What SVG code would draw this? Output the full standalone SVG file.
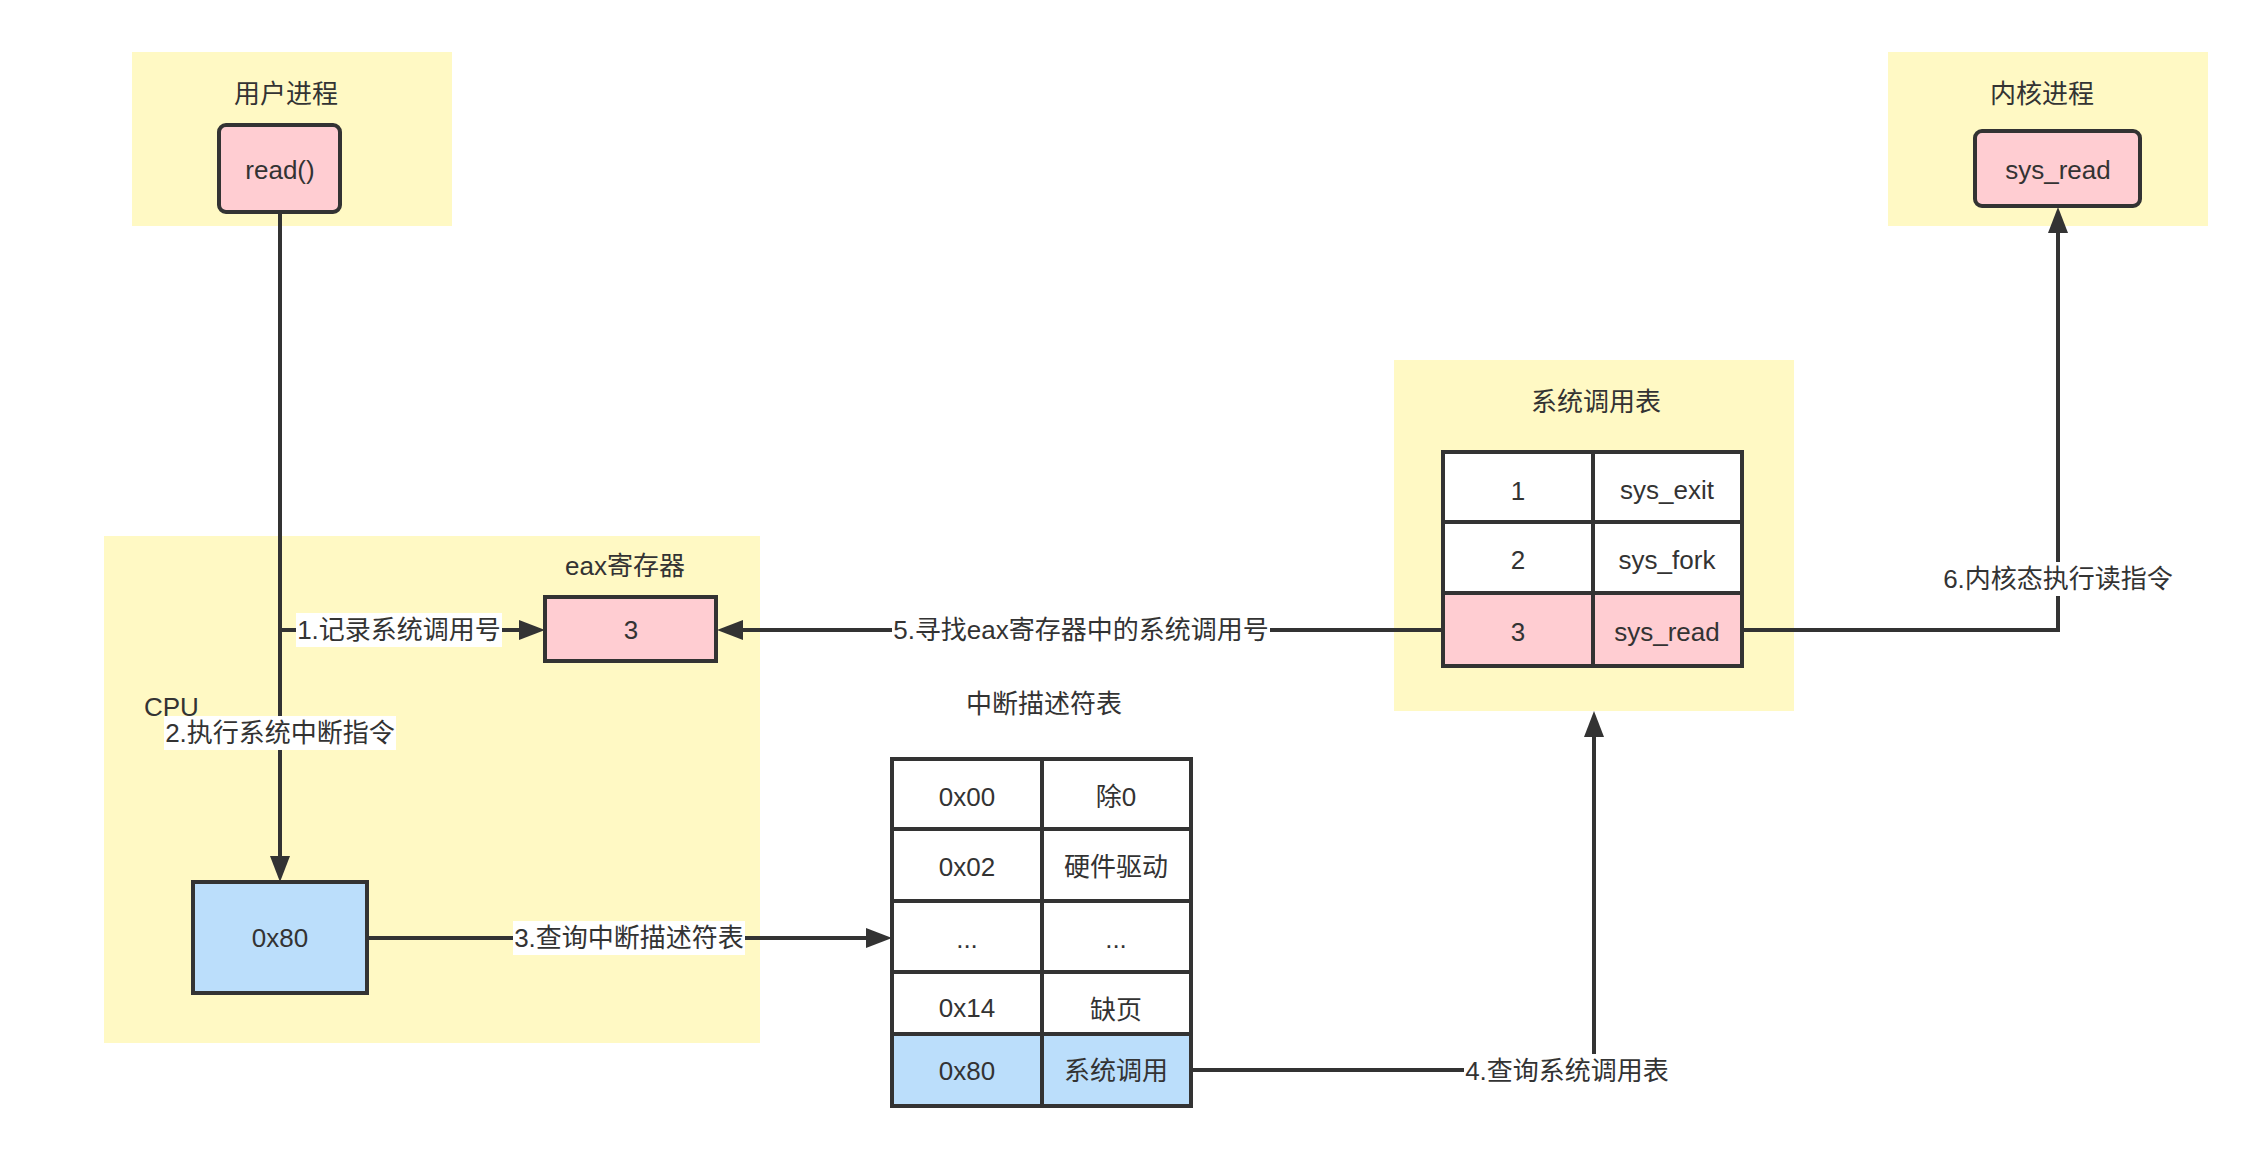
<svg xmlns="http://www.w3.org/2000/svg" width="2260" height="1154" viewBox="0 0 2260 1154">
<defs>
<style>
text{font-family:"Liberation Sans","Noto Sans CJK SC",sans-serif;font-size:26px;fill:#333;text-anchor:middle}
.grp{fill:#fff9c4;stroke:none}
.pink{fill:#ffcdd2;stroke:#333;stroke-width:4}
.blue{fill:#bbdefb;stroke:#333;stroke-width:4}
.white{fill:#fff;stroke:#333;stroke-width:4}
.edge{fill:none;stroke:#333;stroke-width:4}
.lbg{fill:#fff;stroke:none}
</style>
<marker id="arr" viewBox="0 0 26 20" refX="0" refY="10" markerWidth="26" markerHeight="20" markerUnits="userSpaceOnUse" orient="auto">
<path d="M0,0 L26,10 L0,20 z" fill="#333"/>
</marker>
</defs>
<rect width="2260" height="1154" fill="#fff"/>

<g id="user-process-area">
<rect class="grp" x="132" y="52" width="320" height="174"/>
<text x="286" y="103">用户进程</text>
</g>
<g id="kernel-process-area">
<rect class="grp" x="1888" y="52" width="320" height="174"/>
<text x="2042" y="103">内核进程</text>
</g>
<g id="cpu-area">
<rect class="grp" x="104" y="536" width="656" height="507"/>
<text x="144" y="716" style="text-anchor:start">CPU</text>
<text x="625" y="575">eax寄存器</text>
</g>
<g id="syscall-table-area">
<rect class="grp" x="1394" y="360" width="400" height="351"/>
<text x="1596" y="411">系统调用表</text>
</g>
<g id="idt-title">
<text x="1044" y="713">中断描述符表</text>
</g>

<g id="connectors">
<path class="edge" d="M280,212 L280,856" marker-end="url(#arr)"/>
<path class="edge" d="M280,630 L519,630" marker-end="url(#arr)"/>
<path class="edge" d="M367,938 L866,938" marker-end="url(#arr)"/>
<path class="edge" d="M1191,1070 L1594,1070 L1594,737" marker-end="url(#arr)"/>
<path class="edge" d="M1443,630 L743,630" marker-end="url(#arr)"/>
<path class="edge" d="M1742,630 L2058,630 L2058,233" marker-end="url(#arr)"/>
<rect class="lbg" x="296" y="613" width="206" height="34"/>
<text x="399" y="639">1.记录系统调用号</text>
<rect class="lbg" x="164" y="716" width="232" height="34"/>
<text x="280" y="742">2.执行系统中断指令</text>
<rect class="lbg" x="513" y="921" width="232" height="34"/>
<text x="629" y="947">3.查询中断描述符表</text>
<rect class="lbg" x="1464" y="1054" width="206" height="34"/>
<text x="1567" y="1080">4.查询系统调用表</text>
<rect class="lbg" x="892" y="613" width="378" height="34"/>
<text x="1081" y="639">5.寻找eax寄存器中的系统调用号</text>
<rect class="lbg" x="1942" y="562" width="232" height="34"/>
<text x="2058" y="588">6.内核态执行读指令</text>
</g>

<g id="node-read">
<rect class="pink" x="219" y="125" width="121" height="87" rx="7"/>
<text x="280" y="179">read()</text>
</g>
<g id="node-sys-read">
<rect class="pink" x="1975" y="131" width="165" height="75" rx="7"/>
<text x="2058" y="179">sys_read</text>
</g>
<g id="node-eax">
<rect class="pink" x="545" y="597" width="171" height="64"/>
<text x="631" y="639">3</text>
</g>
<g id="node-0x80">
<rect class="blue" x="193" y="882" width="174" height="111"/>
<text x="280" y="947">0x80</text>
</g>

<g id="node-syscall-table">
<rect class="white" x="1443" y="452" width="150" height="70"/>
<rect class="white" x="1593" y="452" width="149" height="70"/>
<rect class="white" x="1443" y="522" width="150" height="71"/>
<rect class="white" x="1593" y="522" width="149" height="71"/>
<rect class="pink" x="1443" y="593" width="150" height="73"/>
<rect class="pink" x="1593" y="593" width="149" height="73"/>
<text x="1518" y="500">1</text>
<text x="1667" y="499">sys_exit</text>
<text x="1518" y="569">2</text>
<text x="1667" y="569">sys_fork</text>
<text x="1518" y="641">3</text>
<text x="1667" y="641">sys_read</text>
</g>

<g id="node-idt">
<rect class="white" x="892" y="759" width="150" height="70"/>
<rect class="white" x="1042" y="759" width="149" height="70"/>
<rect class="white" x="892" y="829" width="150" height="72"/>
<rect class="white" x="1042" y="829" width="149" height="72"/>
<rect class="white" x="892" y="901" width="150" height="71"/>
<rect class="white" x="1042" y="901" width="149" height="71"/>
<rect class="white" x="892" y="972" width="150" height="62"/>
<rect class="white" x="1042" y="972" width="149" height="62"/>
<rect class="blue" x="892" y="1034" width="150" height="72"/>
<rect class="blue" x="1042" y="1034" width="149" height="72"/>
<text x="967" y="806">0x00</text>
<text x="1116" y="806">除0</text>
<text x="967" y="876">0x02</text>
<text x="1116" y="876">硬件驱动</text>
<text x="967" y="948">...</text>
<text x="1116" y="948">...</text>
<text x="967" y="1017">0x14</text>
<text x="1116" y="1019">缺页</text>
<text x="967" y="1080">0x80</text>
<text x="1116" y="1080">系统调用</text>
</g>
</svg>
